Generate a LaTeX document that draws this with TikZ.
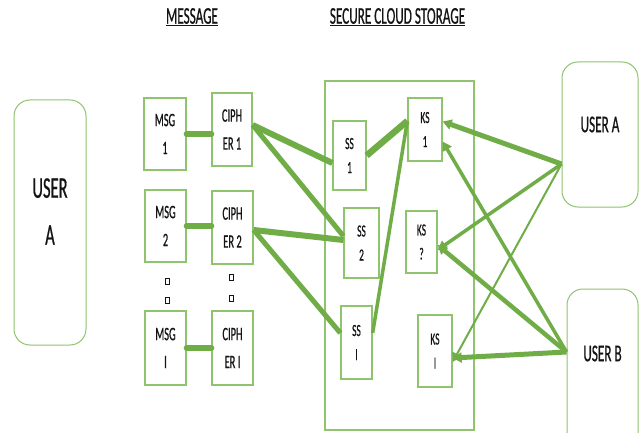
\documentclass[tikz,border=0pt]{standalone}
\usepackage{fontspec}
\newfontfamily\cf[FakeStretch=0.55,FakeBold=0.6]{Carlito}
\usetikzlibrary{arrows.meta}
\definecolor{lg}{HTML}{70AD47}
\definecolor{bg}{HTML}{8FC46E}
\definecolor{tx}{HTML}{141414}
\tikzset{
  box/.style={draw=bg, line width=1.3pt, fill=white, inner sep=0pt, align=center, text=tx},
  ubox/.style={draw=bg, line width=1pt, rounded corners=16pt, inner sep=0pt, text=tx},
  fsmall/.style={font=\cf\fontsize{19}{28}\selectfont},
  fks/.style={font=\cf\fontsize{17}{24}\selectfont},
  link/.style={draw=lg, line width=6pt, line cap=round},
  arr/.style={draw=lg, -{Triangle[length=9pt,width=10pt]}},
  dotsq/.style={draw=tx, line width=0.8pt, minimum width=4pt, minimum height=6pt, inner sep=0pt},
  ttl/.style={font=\cf\fontsize{24}{26}\selectfont, text=tx},
}
\begin{document}
\begin{tikzpicture}[x=1pt,y=-1pt]
\clip (0,0) rectangle (640,433);
\useasboundingbox (0,0) rectangle (640,433);
\fill[white] (0,0) rectangle (640,433);
% titles
\node[ttl] (tmsg) at (192,17) {\underline{MESSAGE}};
\node[ttl] (tcs) at (397.5,17) {\underline{SECURE CLOUD STORAGE}};
% user A left
\node[ubox, minimum width=72pt, minimum height=245pt,
  label={[font=\cf\fontsize{30}{47}\selectfont, text=tx, align=center, yshift=11pt]center:USER\\A}] (ual) at (50,222.5) {};
% cloud
\node[draw=bg, line width=1.3pt, minimum width=149pt, minimum height=349pt, inner sep=0pt] (cloud) at (399.5,255.5) {};
% messages
\node[box, fsmall, minimum width=42pt, minimum height=72pt] (m1) at (165,134) {MSG\\1};
\node[box, fsmall, minimum width=41pt, minimum height=72pt] (m2) at (165.5,226) {MSG\\2};
\node[box, fsmall, minimum width=41pt, minimum height=74pt] (mi) at (165.5,348) {MSG\\I};
\node[box, fsmall, minimum width=40pt, minimum height=73pt] (c1) at (232,129.5) {CIPH\\ER 1};
\node[box, fsmall, minimum width=41pt, minimum height=73pt] (c2) at (232.5,227.5) {CIPH\\ER 2};
\node[box, fsmall, minimum width=41pt, minimum height=74pt] (ci) at (232.5,348) {CIPH\\ER I};
% dots
\node[dotsq] (d1) at (167,281) {};
\node[dotsq] (d2) at (167,300) {};
\node[dotsq] (d3) at (231,277) {};
\node[dotsq] (d4) at (231,298) {};
% storage
\node[box, fks, minimum width=33pt, minimum height=69pt] (ss1) at (349.5,155.5) {SS\\1};
\node[box, fks, minimum width=35pt, minimum height=70pt] (ss2) at (361.5,243) {SS\\2};
\node[box, fks, minimum width=31pt, minimum height=73pt] (ssi) at (356.5,342.5) {SS\\I};
\node[box, fks, minimum width=34pt, minimum height=63pt] (ks1) at (425,129.5) {KS\\1};
\node[box, fks, minimum width=31pt, minimum height=62pt] (ks2) at (421.5,242) {KS\\?};
\node[box, fks, minimum width=34pt, minimum height=72pt] (ksi) at (435,351) {KS\\I};
% users right
\node[ubox, minimum width=76pt, minimum height=145pt,
  label={[font=\cf\fontsize{24}{28}\selectfont, text=tx, yshift=10pt]center:USER A}] (uar) at (600,134.5) {};
\node[ubox, minimum width=71pt, minimum height=161pt,
  label={[font=\cf\fontsize{24}{28}\selectfont, text=tx, yshift=16pt]center:USER B}] (ub) at (602.5,369.5) {};
% message to cipher links
\draw[link] (m1.east) -- (m1.east -| c1.west);
\draw[link] (m2.east) -- (m2.east -| c2.west);
\draw[link] (mi.east) -- (mi.east -| ci.west);
% cipher to storage
\draw[draw=lg, line width=6pt] ([yshift=4.5pt]c1.east) -- ([yshift=-7.5pt]ss1.west);
\draw[draw=lg, line width=5pt] ([yshift=4.5pt]c1.east) -- ([yshift=7pt]ss2.west);
\draw[draw=lg, line width=6pt] ([yshift=-2.5pt]c2.east) -- ([yshift=3pt]ss2.west);
\draw[draw=lg, line width=5pt] ([yshift=-2.5pt]c2.east) -- ([yshift=9.5pt]ssi.west);
% storage to key storage
\draw[draw=lg, line width=6.5pt] (ss1.east) -- ([yshift=8.5pt]ks1.west);
\draw[draw=lg, line width=3.5pt] ([yshift=9.5pt]ssi.east) -- ([yshift=8.5pt]ks1.west);
% user A arrows
\coordinate (uap) at ([yshift=-29.5pt]uar.west);
\draw[arr, line width=5pt] (uap) -- ([yshift=8pt]ks1.east);
\draw[arr, line width=3.5pt] (uap) -- ([yshift=-8pt]ks2.east);
\draw[arr, line width=2pt] (uap) -- ([yshift=-11pt]ksi.east);
% user B arrows
\coordinate (ubp) at ([yshift=17.5pt]ub.west);
\draw[arr, line width=5pt] (ubp) -- ([yshift=-7pt]ksi.east);
\draw[arr, line width=4.5pt] (ubp) -- ([yshift=-3pt]ks2.east);
\draw[arr, line width=3.5pt] (ubp) -- ([yshift=-12pt]ks1.east);
\end{tikzpicture}
\end{document}
